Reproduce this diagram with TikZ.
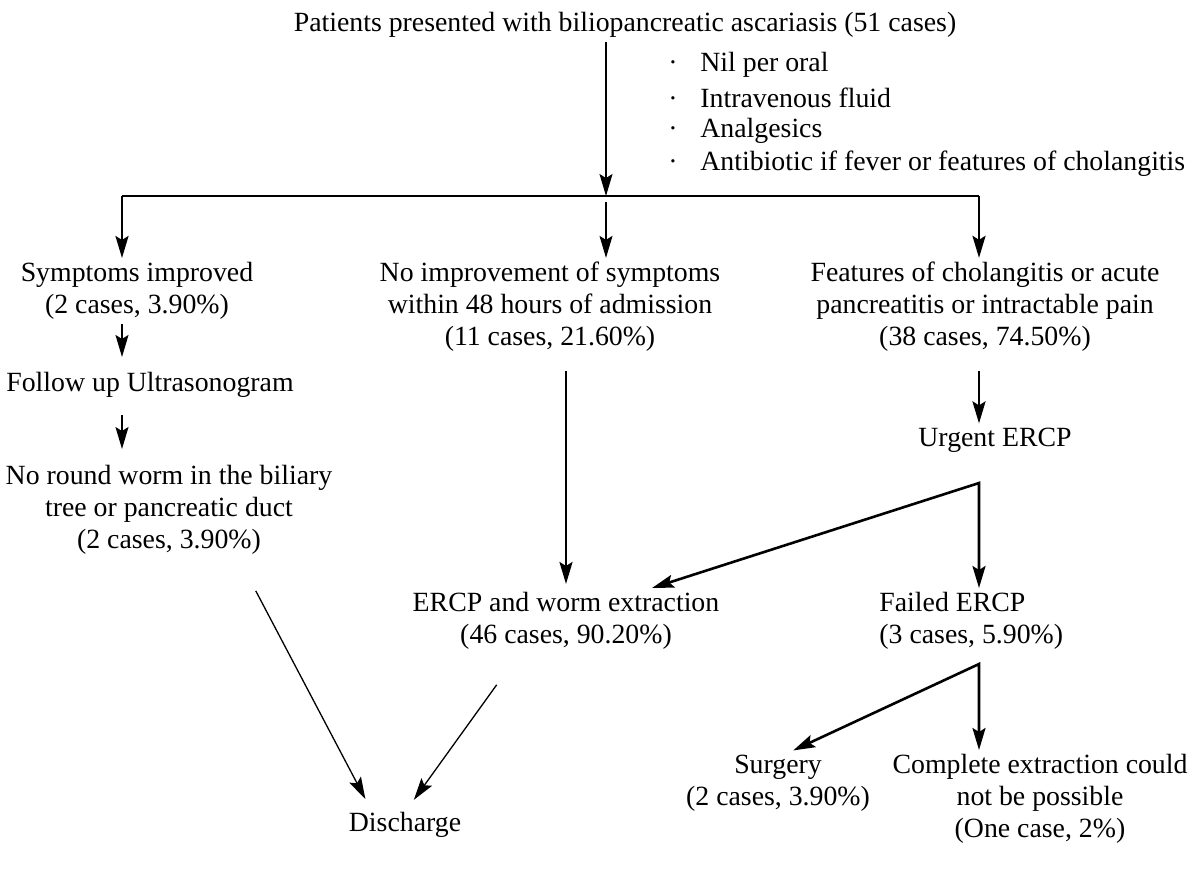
\documentclass[tikz,border=0pt]{standalone}
\usepackage{fontspec}
\setmainfont{Liberation Serif}
\usetikzlibrary{arrows.meta,positioning}

\tikzset{
  box/.style={align=center,inner sep=2pt,font=\fontsize{13.9}{16}\selectfont},
  thinflow/.style={line width=0.65pt,->},
  thickflow/.style={line width=1.3pt,->},
}

\begin{document}
\begin{tikzpicture}[x=0.5pt,y=-0.5pt,>={Stealth[length=11pt,width=6.5pt,inset=2pt]}]
\useasboundingbox (0,0) rectangle (1193,875);

\node[box] (patients) at (625,25) {Patients presented with biliopancreatic ascariasis (51 cases)};
\foreach \t [count=\n] in {Nil per oral,Intravenous fluid,Analgesics,Antibiotic if fever or features of cholangitis}
  \node[box,anchor=west] (care\n) at (664,32+33*\n) {\makebox[16pt][l]{·}\t};

\coordinate (split) at (606,196);
\coordinate (left) at (122,196);
\coordinate (right) at (979,196);

\node[box] (improved) at (137,291) {Symptoms improved\\(2 cases, 3.90\%)};
\node[box] (noimprove) at (550,307) {No improvement of symptoms\\within 48 hours of admission\\(11 cases, 21.60\%)};
\node[box] (features) at (985,307) {Features of cholangitis or acute\\pancreatitis or intractable pain\\(38 cases, 74.50\%)};

\node[box] (followup) at (150,385) {Follow up Ultrasonogram};
\node[box] (noworm) at (169,510) {No round worm in the biliary\\tree or pancreatic duct\\(2 cases, 3.90\%)};
\node[box] (urgent) at (995,440) {Urgent ERCP};
\node[box] (ercp) at (566,621) {ERCP and worm extraction\\(46 cases, 90.20\%)};
\node[box,align=left,anchor=west] (failed) at (875,621) {Failed ERCP\\(3 cases, 5.90\%)};
\node[box] (surgery) at (778,783) {Surgery\\(2 cases, 3.90\%)};
\node[box] (complete) at (1040,799) {Complete extraction could\\not be possible\\(One case, 2\%)};
\node[box] (discharge) at (405,825) {Discharge};

\coordinate (ercpsplit) at (979,483);
\coordinate (failsplit) at (979,664);

% first split
\draw[thinflow] (patients.south -| split) -- (split);
\draw[line width=1.3pt] (left) -- (right);
\draw[thickflow] (left) -- (left |- improved.north);
\draw[thinflow,shorten <=3pt] (split) -- (split |- noimprove.north);
\draw[thickflow] (right) -- (right |- features.north);

% left branch
\draw[thinflow,shorten >=5.5pt] (improved.south -| left) -- (followup.north -| left);
\draw[thinflow,shorten <=6.5pt,shorten >=6pt] (followup.south -| left) -- (noworm.north -| left);
\draw[thinflow,shorten <=18pt,shorten >=5pt] (noworm.-35) -- (discharge.154);

% middle branch
\draw[thickflow,shorten <=7.5pt,shorten >=2pt] (noimprove.south -| ercp) -- (ercp.north);
\draw[thinflow,shorten <=19pt,shorten >=5pt] (ercp.215) -- (discharge.80);

% right branch
\draw[thickflow,shorten <=7.5pt] (features.south -| right) -- (urgent.north -| right);
\draw[line width=1.3pt,<->] (ercp.21) -- (ercpsplit) -- (failed.north -| ercpsplit);
\draw[line width=1.3pt,<->] (surgery.65) -- (failsplit) -- (complete.north -| failsplit);
\end{tikzpicture}
\end{document}
